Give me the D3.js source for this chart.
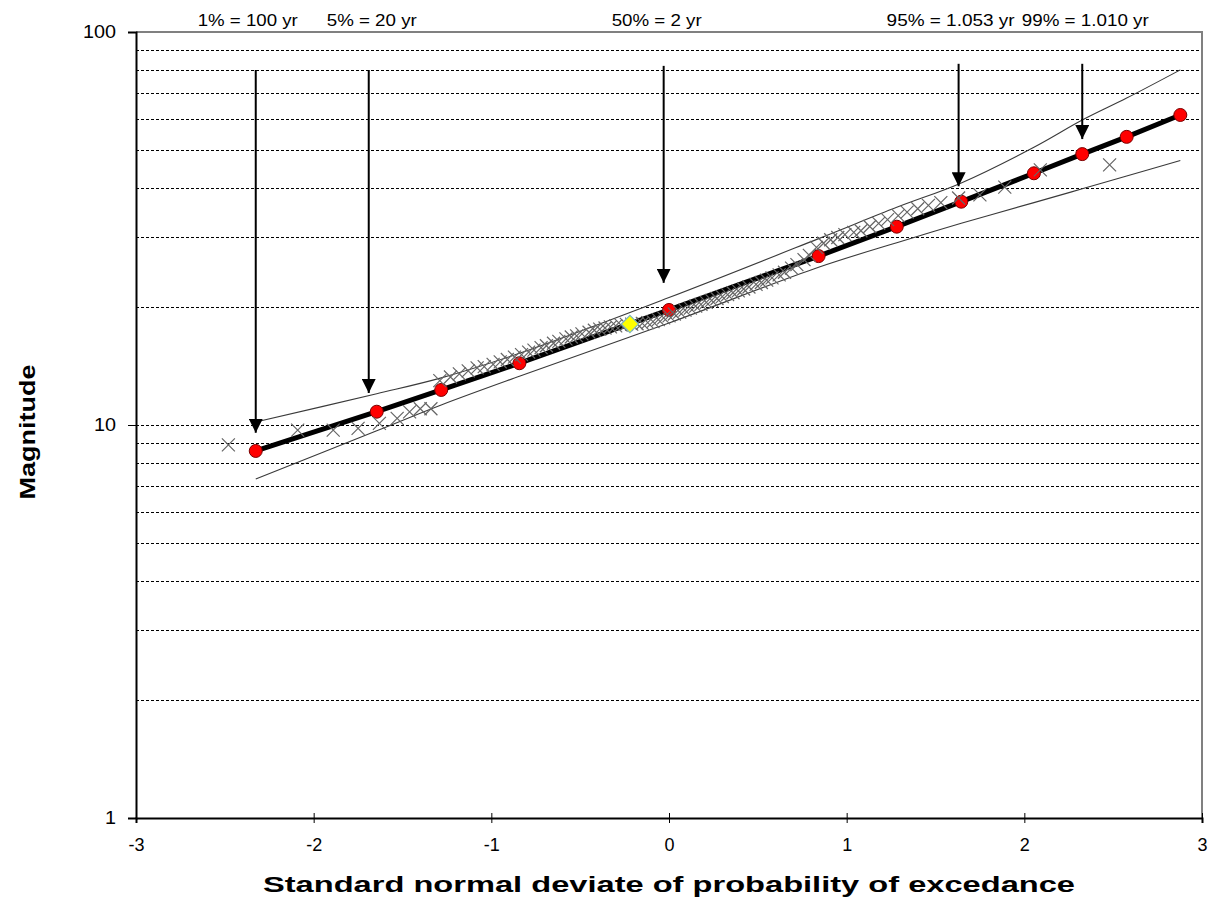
<!DOCTYPE html>
<html>
  <head>
    <meta charset="UTF-8">
    <title>Frequency plot</title>
    <script src="https://d3js.org/d3.v7.min.js"></script>
    <style>
      body { margin: 0; background: #fff; }
      text { font-family: "Liberation Sans", Arial, sans-serif; fill: #000; }
    </style>
  </head>
  <body>
    <svg width="1209" height="906"></svg>

    <script>

// fitted quantiles (red circles + thick line)
const fitZ = [-2.326, -1.645, -1.282, -0.842, 0, 0.842, 1.282, 1.645, 2.054, 2.326, 2.576, 2.878];
const fitMag = [8.59, 10.81, 12.28, 14.36, 19.62, 26.9, 31.96, 37.0, 43.7, 48.9, 54.1, 61.5];
const upperMag = [10.18, 12.01, 13.18, 15.22, 21.1, 29.8, 35.8, 41.3, 50.9, 59.7, 67.9, 80.1];
const lowerMag = [7.29, 9.67, 11.25, 13.31, 18.18, 25.2, 29.1, 32.6, 36.8, 39.9, 43.0, 47.1];

// observed data (crosses)
const obsZ = [-2.48, -2.09, -1.89, -1.75, -1.63, -1.53, -1.46, -1.40, -1.34, -1.29, -1.23, -1.18,
  -1.13, -1.08, -1.04, -0.99, -0.95, -0.91, -0.87, -0.83, -0.79, -0.76, -0.72, -0.69, -0.65,
  -0.62, -0.58, -0.55, -0.52, -0.49, -0.45, -0.42, -0.39, -0.36, -0.33, -0.30, -0.27, -0.24,
  -0.21, -0.18, -0.15, -0.12, -0.09, -0.06, -0.03, 0.00, 0.03, 0.06, 0.09, 0.12, 0.15, 0.18,
  0.21, 0.24, 0.27, 0.30, 0.33, 0.36, 0.39, 0.42, 0.45, 0.49, 0.52, 0.55, 0.58, 0.62, 0.65,
  0.69, 0.72, 0.76, 0.79, 0.83, 0.87, 0.91, 0.95, 0.99, 1.04, 1.08, 1.13, 1.18, 1.23, 1.29,
  1.34, 1.40, 1.46, 1.53, 1.63, 1.75, 1.89, 2.09, 2.48];
const obsMag = [8.9, 9.7, 9.7, 9.8, 10.1, 10.4, 10.8, 11.0, 11.0, 12.97, 13.25, 13.49,
  13.73, 13.98, 14.08, 14.27, 14.47, 14.68, 14.89, 15.10, 15.33, 15.50, 15.73, 15.91, 16.14,
  16.32, 16.57, 16.75, 16.86, 17.05, 17.22, 17.42, 17.53, 17.65, 17.77, 17.88, 17.96, 18.03,
  18.06, 18.10, 18.14, 18.21, 18.33, 18.54, 18.74, 18.95, 19.16, 19.38, 19.61, 19.83, 20.06, 20.28,
  20.51, 20.75, 20.98, 21.22, 21.46, 21.70, 21.94, 22.19, 22.44, 22.79, 23.04, 23.36, 23.68, 24.09, 24.47,
  25.07, 25.59, 26.34, 27.01, 28.3, 29.0, 29.6, 30.0, 30.5, 30.9, 31.2, 32.0, 32.6, 33.3, 34.1,
  34.8, 35.5, 36.2, 36.8, 37.8, 38.5, 40.3, 44.6, 45.9];

// mean point (yellow diamond)
const meanZ = [-0.22];
const meanMag = [18.07];

// return period arrows
const arrowLabels = ["1% = 100 yr", "5% = 20 yr", "50% = 2 yr", "95% = 1.053 yr", "99% = 1.010 yr"];
const arrowZ = [-2.326, -1.69, -0.03, 1.63, 2.326];
const arrowFrom = [80, 80, 82, 83, 83];
const arrowTo = [9.55, 12.07, 23.0, 40.5, 53.4];

const xTicks = [-3, -2, -1, 0, 1, 2, 3];
const yTicks = [1, 10, 100];
const yGrid = [2, 3, 4, 5, 6, 7, 8, 9, 10, 20, 30, 40, 50, 60, 70, 80, 90];

const svg = d3.select("svg");
const plotL = 136, plotR = 1202, plotT = 32, plotB = 818;

const x = d3.scaleLinear().domain([-3, 3]).range([plotL, plotR]);
const y = d3.scaleLog().domain([1, 100]).range([plotB, plotT]);

// gridlines
svg.append("g")
  .selectAll("line")
  .data(yGrid)
  .join("line")
  .attr("x1", plotL)
  .attr("x2", plotR)
  .attr("y1", d => Math.round(y(d)) + 0.5)
  .attr("y2", d => Math.round(y(d)) + 0.5)
  .attr("stroke", "#000")
  .attr("stroke-width", 1)
  .attr("stroke-dasharray", "3,2");

// frame top / right in gray
svg.append("path")
  .attr("d", `M${plotL},${plotT}H${plotR}V${plotB}`)
  .attr("fill", "none")
  .attr("stroke", "#808080")
  .attr("stroke-width", 2);

// y axis
const yAxis = svg.append("g")
  .attr("transform", `translate(${plotL},0)`)
  .call(d3.axisLeft(y).tickValues(yTicks).tickFormat(d3.format("d")).tickSize(8).tickPadding(12));
yAxis.select(".domain").attr("stroke", "#000").attr("stroke-width", 2);
yAxis.selectAll(".tick text")
  .attr("font-size", 18)
  .attr("fill", "#000")
  .attr("textLength", d => String(d).length * 11)
  .attr("lengthAdjust", "spacingAndGlyphs");

// x axis
const xAxis = svg.append("g")
  .attr("transform", `translate(0,${plotB})`)
  .call(d3.axisBottom(x).tickValues(xTicks).tickFormat(d3.format("d")).tickSize(5).tickPadding(15));
xAxis.select(".domain").attr("stroke", "#000").attr("stroke-width", 2);
xAxis.selectAll(".tick line").attr("y1", -5);
xAxis.selectAll(".tick text").attr("font-size", 18).attr("fill", "#000");
xAxis.selectAll(".tick text").text(d => d < 0 ? "-" + Math.abs(d) : d);

// confidence bounds
const thin = d3.line().x(d => x(d[0])).y(d => y(d[1])).curve(d3.curveCatmullRom);
const straight = d3.line().x(d => x(d[0])).y(d => y(d[1]));
[upperMag, lowerMag].forEach(arr => {
  svg.append("path")
    .datum(fitZ.map((z, i) => [z, arr[i]]))
    .attr("d", thin)
    .attr("fill", "none")
    .attr("stroke", "#3a3a3a")
    .attr("stroke-width", 1.1);
});

// fitted line
const fitPts = fitZ.map((z, i) => [z, fitMag[i]]);
svg.append("path")
  .datum(fitPts)
  .attr("d", straight)
  .attr("fill", "none")
  .attr("stroke", "#000")
  .attr("stroke-width", 5);

svg.append("g")
  .selectAll("circle")
  .data(fitPts)
  .join("circle")
  .attr("cx", d => x(d[0]))
  .attr("cy", d => y(d[1]))
  .attr("r", 6.5)
  .attr("fill", "#ff0000")
  .attr("stroke", "#7a0000")
  .attr("stroke-width", 1);

// observed crosses
svg.append("g")
  .selectAll("path")
  .data(obsZ.map((z, i) => [z, obsMag[i]]))
  .join("path")
  .attr("transform", d => `translate(${x(d[0])},${y(d[1])})`)
  .attr("d", "M-6.5,-6.5L6.5,6.5M-6.5,6.5L6.5,-6.5")
  .attr("stroke", "#666")
  .attr("stroke-width", 1.2)
  .attr("fill", "none");

// mean diamond
svg.append("g")
  .selectAll("path")
  .data(meanZ.map((z, i) => [z, meanMag[i]]))
  .join("path")
  .attr("transform", d => `translate(${x(d[0])},${y(d[1])}) rotate(45)`)
  .attr("d", d3.symbol().type(d3.symbolSquare).size(150))
  .attr("fill", "#ffff00")
  .attr("stroke", "#80b8c0")
  .attr("stroke-width", 1.2);

// arrows
svg.append("defs").append("marker")
  .attr("id", "head")
  .attr("viewBox", "0 0 14 14")
  .attr("refX", 14).attr("refY", 7)
  .attr("markerWidth", 14).attr("markerHeight", 14)
  .attr("markerUnits", "userSpaceOnUse")
  .attr("orient", "auto")
  .append("path")
  .attr("d", "M0,0L14,7L0,14Z")
  .attr("fill", "#000");

const arrows = arrowZ.map((z, i) => ({ z: z, from: arrowFrom[i], to: arrowTo[i], label: arrowLabels[i] }));
svg.append("g")
  .selectAll("line")
  .data(arrows)
  .join("line")
  .attr("x1", d => x(d.z))
  .attr("x2", d => x(d.z))
  .attr("y1", d => y(d.from))
  .attr("y2", d => y(d.to))
  .attr("stroke", "#000")
  .attr("stroke-width", 2)
  .attr("marker-end", "url(#head)");

// label nudges and widths (px) to match the stretched original lettering
const labelDx = [-8, 3, -7, -8, 3];
const labelW = [100, 90, 90, 128, 127];
svg.append("g")
  .selectAll("text")
  .data(arrows)
  .join("text")
  .attr("x", (d, i) => x(d.z) + labelDx[i])
  .attr("y", 26)
  .attr("text-anchor", "middle")
  .attr("font-size", 16)
  .attr("textLength", (d, i) => labelW[i])
  .attr("lengthAdjust", "spacingAndGlyphs")
  .text(d => d.label);

// axis titles
svg.append("text")
  .attr("x", (plotL + plotR) / 2)
  .attr("y", 892)
  .attr("text-anchor", "middle")
  .attr("font-size", 22)
  .attr("font-weight", "bold")
  .attr("textLength", 812)
  .attr("lengthAdjust", "spacingAndGlyphs")
  .text("Standard normal deviate of probability of excedance");

svg.append("text")
  .attr("transform", "translate(35,432) rotate(-90)")
  .attr("text-anchor", "middle")
  .attr("font-size", 22)
  .attr("font-weight", "bold")
  .attr("textLength", 135)
  .attr("lengthAdjust", "spacingAndGlyphs")
  .text("Magnitude");

    </script>
  </body>
</html>
